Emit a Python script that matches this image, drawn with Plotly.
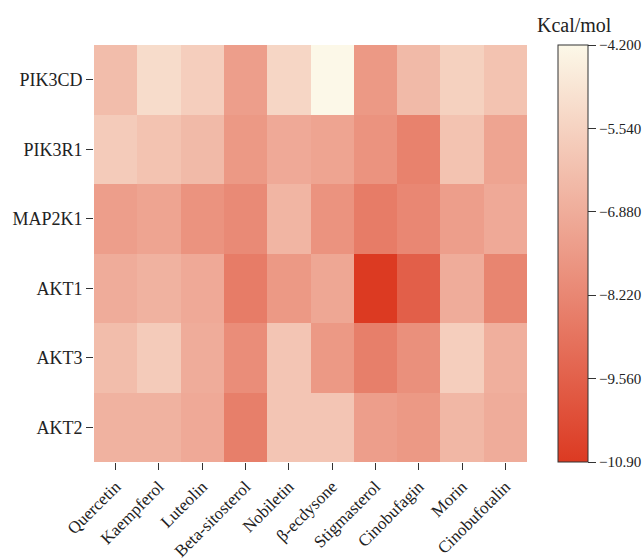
import plotly.graph_objects as go

compounds = ["Quercetin", "Kaempferol", "Luteolin", "Beta-sitosterol", "Nobiletin",
             "β-ecdysone", "Stigmasterol", "Cinobufagin", "Morin", "Cinobufotalin"]
targets = ["PIK3CD", "PIK3R1", "MAP2K1", "AKT1", "AKT3", "AKT2"]

# binding energies (kcal/mol), rows = targets
PIK3CD = [-6.3, -5.2, -5.7, -7.4, -5.4, -4.2, -7.6, -6.4, -5.6, -6.1]
PIK3R1 = [-5.8, -6.1, -6.4, -7.6, -7.0, -7.2, -7.8, -8.4, -6.1, -7.2]
MAP2K1 = [-7.4, -7.2, -7.8, -8.1, -6.6, -7.8, -8.6, -8.2, -7.4, -7.0]
AKT1 = [-6.9, -6.7, -7.0, -8.6, -7.6, -7.1, -10.9, -9.6, -6.9, -8.3]
AKT3 = [-6.3, -5.8, -6.9, -8.0, -6.0, -7.6, -8.5, -7.9, -5.7, -6.8]
AKT2 = [-6.7, -6.7, -7.0, -8.5, -6.0, -6.0, -7.4, -7.6, -6.5, -6.9]

cbar_ticks = [-4.2, -5.54, -6.88, -8.22, -9.56, -10.9]
cbar_text = ["−4.200", "−5.540", "−6.880", "−8.220", "−9.560", "−10.90"]

z = [PIK3CD, PIK3R1, MAP2K1, AKT1, AKT3, AKT2]

font = "'Liberation Serif', 'DejaVu Serif', serif"

L, R, T, B = 94, 115, 45, 97
W, H = 642, 559
pw = W - L - R
ph = H - T - B

fig = go.Figure(go.Heatmap(
    z=z, x=compounds, y=targets,
    zmin=-10.9, zmax=-4.2,
    colorscale=[[0.0, "#DC3A22"], [0.5, "#EC9A87"], [1.0, "#FCF8E8"]],
    xgap=0, ygap=0,
    colorbar=dict(
        x=(558 - L) / pw, xanchor="left", xpad=0,
        y=0.5, yanchor="middle", len=1.0, lenmode="fraction", ypad=0,
        thickness=30, thicknessmode="pixels",
        outlinecolor="#333333", outlinewidth=1,
        tickvals=cbar_ticks, ticktext=cbar_text,
        ticks="outside", ticklen=8, tickcolor="#333333",
        tickfont=dict(family=font, size=15, color="#222222"),
    ),
))

fig.update_layout(
    width=W, height=H,
    margin=dict(l=L, r=R, t=T, b=B, autoexpand=False),
    paper_bgcolor="white", plot_bgcolor="white",
    font=dict(family=font, color="#222222"),
    xaxis=dict(tickangle=-45, ticks="outside", ticklen=7, tickcolor="#333333",
               tickfont=dict(family=font, size=17), showgrid=False, zeroline=False),
    yaxis=dict(autorange="reversed", ticks="outside", ticklen=7, tickcolor="#333333",
               tickfont=dict(family=font, size=18), showgrid=False, zeroline=False),
    annotations=[dict(text="Kcal/mol", x=(574 - L) / pw, y=(H - B - 25) / ph,
                      xref="paper", yref="paper", xanchor="center", yanchor="middle",
                      showarrow=False, font=dict(family=font, size=20, color="#222222"))],
)

fig.write_html("out.html", config={"displayModeBar": False},
               post_script="document.body.style.margin='0';document.body.style.padding='0';")
